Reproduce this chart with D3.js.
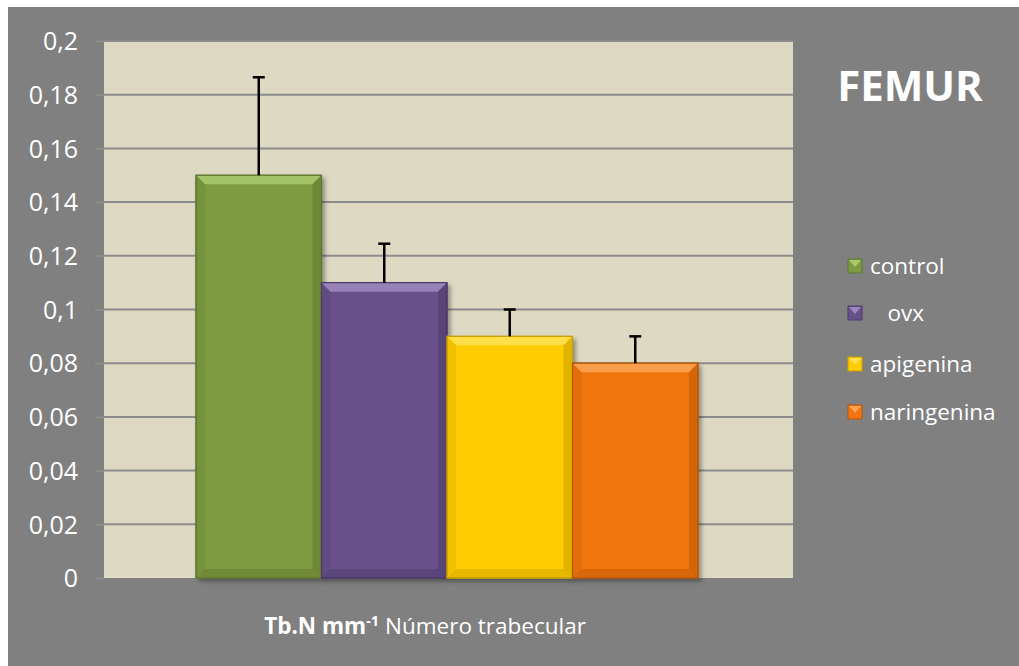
<!DOCTYPE html>
<html><head><meta charset="utf-8">
<script src="https://cdn.jsdelivr.net/npm/d3@7"></script>
<style>body{margin:0;background:#fff;}svg{display:block;}</style>
</head><body>
<script>
const categories = ["control", "ovx", "apigenina", "naringenina"];
const legendLabels = ["control", "   ovx", "apigenina", "naringenina"];
const values = [0.15, 0.11, 0.09, 0.08];
const errors = [0.0365, 0.0145, 0.01, 0.01];
const yTicks = [0, 0.02, 0.04, 0.06, 0.08, 0.1, 0.12, 0.14, 0.16, 0.18, 0.2];
const colors = ["#7f9b42", "#68518a", "#fecc05", "#f07411"];
const lightColors = ["#a9c86a", "#9b86bd", "#ffe150", "#fba352"];
const darkColors = ["#5f7630", "#4c3a68", "#c99f00", "#b85706"];

const W = 1019, H = 666;
const FONT = "Open Sans, sans-serif";
const svg = d3.select("body").append("svg").attr("width", W).attr("height", H);
const defs = svg.append("defs");
const f = defs.append("filter").attr("id","sh").attr("x","-10%").attr("y","-10%").attr("width","130%").attr("height","130%");
f.append("feDropShadow").attr("dx",3).attr("dy",3).attr("stdDeviation",2).attr("flood-color","#000").attr("flood-opacity",0.35);

svg.append("rect").attr("x",8).attr("y",7).attr("width",W-8).attr("height",H-7).attr("fill","#808080");

const plot = {l:104, t:41, r:793, b:578};
svg.append("rect").attr("x",plot.l).attr("y",plot.t).attr("width",plot.r-plot.l).attr("height",plot.b-plot.t).attr("fill","#ddd9c3");

const y = d3.scaleLinear().domain([0,0.2]).range([plot.b, plot.t]);
const x = d3.scaleBand().domain(categories).range([196, 698]).padding(0);

// gridlines
svg.append("g").selectAll("line").data(yTicks.filter(d=>d>0)).join("line")
  .attr("x1",plot.l).attr("x2",plot.r).attr("y1",d=>y(d)).attr("y2",d=>y(d))
  .attr("stroke","#8c8c8c").attr("stroke-width",2);

// axis
const fmt = d => String(+d.toFixed(2)).replace(".", ",");
const ax = svg.append("g").attr("transform",`translate(${plot.l},0)`)
  .call(d3.axisLeft(y).tickValues(yTicks).tickFormat(fmt).tickSize(9).tickPadding(17));
ax.select(".domain").remove();
ax.selectAll(".tick line").attr("stroke","#8c8c8c").attr("stroke-width",2);
ax.selectAll(".tick text").attr("fill","#fff").attr("font-family",FONT).attr("font-size",25).attr("dy","0.35em");

// bars
const bv = 9;
const bars = svg.append("g").selectAll("g").data(categories).join("g");
bars.each(function(c,i){
  const g = d3.select(this);
  const x0 = x(c), x1 = x(c)+x.bandwidth(), y0 = y(values[i]), y1 = y(0);
  g.append("rect").attr("x",x0).attr("y",y0).attr("width",x1-x0).attr("height",y1-y0)
    .attr("fill",colors[i]).attr("stroke",darkColors[i]).attr("stroke-width",1).attr("filter","url(#sh)");
  g.append("polygon").attr("points",[[x0,y0],[x1,y0],[x1-bv,y0+bv],[x0+bv,y0+bv]].join(" "))
    .attr("fill",lightColors[i]).attr("opacity",0.9);
  g.append("polygon").attr("points",[[x0,y1],[x1,y1],[x1-bv,y1-bv],[x0+bv,y1-bv]].join(" "))
    .attr("fill",darkColors[i]).attr("opacity",0.45);
  g.append("polygon").attr("points",[[x0,y0],[x0+bv,y0+bv],[x0+bv,y1-bv],[x0,y1]].join(" "))
    .attr("fill",darkColors[i]).attr("opacity",0.25);
  g.append("polygon").attr("points",[[x1,y0],[x1-bv,y0+bv],[x1-bv,y1-bv],[x1,y1]].join(" "))
    .attr("fill",darkColors[i]).attr("opacity",0.55);
  g.append("rect").attr("x",x0).attr("y",y0).attr("width",x1-x0).attr("height",y1-y0)
    .attr("fill","none").attr("stroke",darkColors[i]).attr("stroke-width",1.2);
});

// error bars
const eb = svg.append("g").attr("stroke","#000").attr("stroke-width",2.5);
categories.forEach((c,i)=>{
  const cx = x(c)+x.bandwidth()/2;
  eb.append("line").attr("x1",cx).attr("x2",cx).attr("y1",y(values[i])).attr("y2",y(values[i]+errors[i]));
  eb.append("line").attr("x1",cx-6).attr("x2",cx+6).attr("y1",y(values[i]+errors[i])).attr("y2",y(values[i]+errors[i]));
});

// title
svg.append("text").attr("x",910).attr("y",101).attr("text-anchor","middle")
  .attr("font-family",FONT).attr("font-weight","bold").attr("font-size",42)
  .attr("fill","#fff").text("FEMUR");

// legend
const legY = [266, 313, 364, 412];
const lg = svg.append("g");
categories.forEach((c,i)=>{
  const g = lg.append("g").attr("transform",`translate(848,${legY[i]})`);
  g.append("rect").attr("x",0).attr("y",-7).attr("width",14).attr("height",14).attr("fill",colors[i]).attr("stroke",darkColors[i]);
  g.append("polygon").attr("points","1,-6 13,-6 7,1").attr("fill",lightColors[i]);
  g.append("text").attr("x",22).attr("y",8).attr("font-family",FONT).attr("font-size",22.5)
    .attr("fill","#fff").style("white-space","pre").text(legendLabels[i]);
});

// x label
const xl = svg.append("text").attr("x",425).attr("y",634).attr("text-anchor","middle")
  .attr("font-family",FONT).attr("font-size",22.5).attr("fill","#fff");
xl.append("tspan").attr("font-weight","bold").text("Tb.N mm");
xl.append("tspan").attr("font-weight","bold").attr("font-size",14.5).attr("dy",-8).text("-1");
xl.append("tspan").attr("dy",8).text(" Número trabecular");
</script>
</body></html>
